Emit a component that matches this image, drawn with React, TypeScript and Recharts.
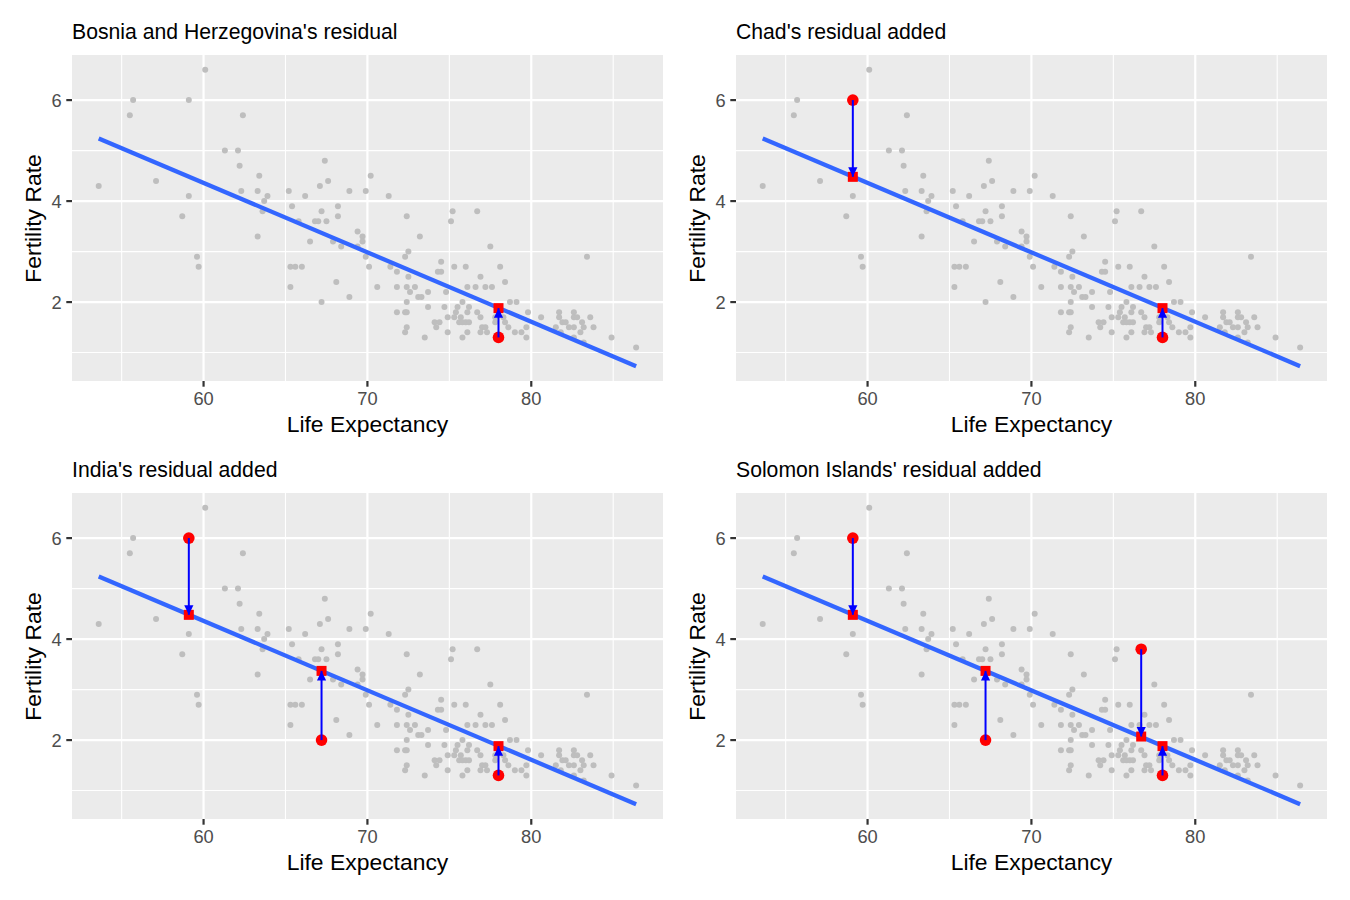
import React from 'react';
import { ScatterChart, Scatter, XAxis, YAxis, CartesianGrid } from 'recharts';

// life expectancy (years) vs fertility rate (births per woman), one pair per country
const COUNTRIES: Array<[number, number]> = [
  [60.1, 6.6], [55.7, 6.0], [59.1, 6.0], [55.5, 5.7], [62.4, 5.7], [61.3, 5.0], [62.1, 5.0],
  [62.2, 4.7], [63.4, 4.5], [53.6, 4.3], [57.1, 4.4], [62.3, 4.2], [63.3, 4.2], [63.9, 4.1],
  [63.7, 4.0], [63.6, 3.8], [59.1, 4.1], [58.7, 3.7], [63.3, 3.3], [59.6, 2.9], [59.7, 2.7],
  [67.4, 4.8], [70.2, 4.5], [67.6, 4.4], [67.1, 4.3], [65.2, 4.2], [66.2, 4.1], [68.9, 4.2],
  [69.9, 4.2], [71.3, 4.1], [65.4, 3.9], [67.2, 3.8], [68.2, 3.9], [68.2, 3.7], [65.8, 3.6],
  [66.8, 3.6], [67.0, 3.6], [67.5, 3.6], [72.4, 3.7], [66.5, 3.2], [67.9, 3.2], [68.4, 3.1],
  [69.4, 3.4], [69.7, 3.3], [69.7, 3.2], [69.4, 3.1], [69.9, 2.9], [70.1, 2.7], [73.2, 3.3],
  [72.5, 3.0], [72.3, 2.9], [71.4, 2.7], [71.8, 2.6], [72.5, 2.5], [65.3, 2.7], [65.6, 2.7],
  [66.0, 2.7], [65.3, 2.3], [68.1, 2.4], [68.9, 2.1], [67.2, 2.0], [70.6, 2.3], [71.8, 2.3],
  [72.4, 2.3], [72.9, 2.3], [72.6, 2.2], [73.1, 2.1], [73.3, 2.1], [73.7, 2.2], [72.4, 2.0],
  [73.7, 1.9], [71.8, 1.8], [72.3, 1.8], [72.4, 1.8], [72.4, 1.5], [72.3, 1.4], [73.5, 1.3],
  [75.2, 3.8], [75.1, 3.6], [76.7, 3.8], [77.5, 3.1], [74.5, 2.8], [74.3, 2.6], [74.5, 2.6],
  [75.3, 2.7], [76.0, 2.7], [78.1, 2.7], [76.9, 2.5], [78.4, 2.4], [76.1, 2.3], [76.6, 2.3],
  [77.2, 2.3], [77.6, 2.3], [74.8, 2.2], [75.8, 2.0], [78.7, 2.0], [79.1, 2.0], [74.7, 1.9],
  [75.5, 1.9], [76.2, 1.9], [75.4, 1.8], [76.1, 1.8], [76.7, 1.8], [79.8, 1.8], [74.9, 1.7],
  [75.3, 1.7], [75.7, 1.7], [76.9, 1.7], [77.8, 1.7], [78.3, 1.7], [74.1, 1.6], [74.4, 1.6],
  [75.6, 1.6], [75.8, 1.6], [76.0, 1.6], [76.2, 1.6], [77.8, 1.6], [78.4, 1.6], [74.2, 1.5],
  [77.0, 1.5], [77.2, 1.5], [78.6, 1.5], [79.7, 1.5], [74.9, 1.4], [76.1, 1.4], [76.9, 1.4],
  [77.3, 1.4], [79.0, 1.4], [79.4, 1.4], [75.8, 1.3], [79.7, 1.3], [78.0, 1.3],
  [80.6, 1.7], [83.4, 2.9], [81.7, 1.8], [82.6, 1.8], [81.7, 1.7], [82.6, 1.7], [82.8, 1.7],
  [83.6, 1.7], [81.9, 1.6], [82.1, 1.6], [83.1, 1.6], [81.5, 1.5], [82.3, 1.5], [82.6, 1.5],
  [83.2, 1.5], [83.8, 1.5], [81.8, 1.4], [83.0, 1.4], [82.6, 1.3], [83.2, 1.2], [84.9, 1.3],
  [86.4, 1.1],
];

// least-squares line, drawn across the observed life expectancy range
const FIT_LIFE_EXP = [53.6, 86.4];
const FIT_FERTILITY = [5.24, 0.73];

// countries whose residuals get highlighted, in the order they are added
const RESIDUAL_COUNTRIES = ['Bosnia and Herzegovina', 'Chad', 'India', 'Solomon Islands'];
const RESIDUAL_LIFE_EXP = [78.0, 59.1, 67.2, 76.7];
const RESIDUAL_FERTILITY = [1.3, 6.0, 2.0, 3.8];
const RESIDUAL_FITTED = [1.88, 4.48, 3.37, 2.07];

const PANEL_TITLES = [
  "Bosnia and Herzegovina's residual",
  "Chad's residual added",
  "India's residual added",
  "Solomon Islands' residual added",
];

const X_DOMAIN = [51.97, 88.04];
const Y_DOMAIN = [0.437, 6.893];
const X_TICKS = [60, 70, 80];
const X_MINOR = [55, 65, 75, 85];
const Y_TICKS = [2, 4, 6];
const Y_MINOR = [1, 3, 5];

const FONT = '"Liberation Sans", Arial, Helvetica, sans-serif';
const CHART_W = 672;
const CHART_H = 440;

const pointData = COUNTRIES.map(([x, y]) => ({ x, y }));
const fitData = FIT_LIFE_EXP.map((x, i) => ({ x, y: FIT_FERTILITY[i] }));

const grayDot = (p: any) => <circle cx={p.cx} cy={p.cy} r={3} fill="#BEBEBE" />;
const noDot = () => <g />;
const redDot = (p: any) => <circle cx={p.cx} cy={p.cy} r={5.8} fill="#FF0000" />;
const redSquare = (p: any) => <rect x={p.cx - 5} y={p.cy - 5} width={10} height={10} fill="#FF0000" />;

// arrow head sits on the fitted value, pointing away from the observed value
const arrowHead = (p: any) => {
  if (!p.payload || !p.payload.tip) return <g />;
  const d = p.payload.y > p.payload.from ? 9.5 : -9.5;
  return (
    <polygon
      points={`${p.cx},${p.cy} ${p.cx - 4.6},${p.cy + d} ${p.cx + 4.6},${p.cy + d}`}
      fill="#0000FF"
    />
  );
};

function Panel({ title, count, left, top }: { title: string; count: number; left: number; top: number }) {
  const observed = RESIDUAL_COUNTRIES.slice(0, count).map((name, i) => ({
    name,
    x: RESIDUAL_LIFE_EXP[i],
    y: RESIDUAL_FERTILITY[i],
  }));
  const fitted = RESIDUAL_COUNTRIES.slice(0, count).map((name, i) => ({
    name,
    x: RESIDUAL_LIFE_EXP[i],
    y: RESIDUAL_FITTED[i],
  }));

  return (
    <div style={{ position: 'absolute', left, top, width: CHART_W, height: CHART_H }}>
      <ScatterChart width={CHART_W} height={CHART_H} margin={{ top: 55, right: 9, bottom: 0, left: 0 }}>
        <CartesianGrid
          fill="#EBEBEB"
          stroke="#FFFFFF"
          strokeWidth={1.1}
          horizontalValues={Y_MINOR}
          verticalValues={X_MINOR}
        />
        <CartesianGrid stroke="#FFFFFF" strokeWidth={2.2} horizontalValues={Y_TICKS} verticalValues={X_TICKS} />
        <XAxis
          type="number"
          dataKey="x"
          domain={X_DOMAIN}
          allowDataOverflow
          ticks={X_TICKS}
          height={59}
          axisLine={false}
          tickSize={5.7}
          tickMargin={5.5}
          tickLine={{ stroke: '#333333', strokeWidth: 2.2 }}
          tick={{ fill: '#4D4D4D', fontSize: 18.3 }}
        />
        <YAxis
          type="number"
          dataKey="y"
          domain={Y_DOMAIN}
          allowDataOverflow
          ticks={Y_TICKS}
          width={72}
          axisLine={false}
          tickSize={5.7}
          tickMargin={4.6}
          tickLine={{ stroke: '#333333', strokeWidth: 2.2 }}
          tick={{ fill: '#4D4D4D', fontSize: 18.3 }}
        />
        <Scatter data={pointData} shape={grayDot} isAnimationActive={false} />
        <Scatter
          data={fitData}
          shape={noDot}
          line={{ stroke: '#3366FF', strokeWidth: 4.3 }}
          isAnimationActive={false}
        />
        <Scatter data={observed} shape={redDot} isAnimationActive={false} />
        <Scatter data={fitted} shape={redSquare} isAnimationActive={false} />
        {observed.map((o, i) => (
          <Scatter
            key={o.name}
            data={[
              { x: o.x, y: o.y },
              { x: o.x, y: fitted[i].y, from: o.y, tip: true },
            ]}
            shape={arrowHead}
            line={{ stroke: '#0000FF', strokeWidth: 2 }}
            isAnimationActive={false}
          />
        ))}
      </ScatterChart>

      <div
        style={{
          position: 'absolute',
          left: 72,
          top: 20.5,
          fontSize: 21.2,
          lineHeight: 1,
          whiteSpace: 'nowrap',
          color: '#000',
        }}
      >
        {title}
      </div>
      <div
        style={{
          position: 'absolute',
          left: 72,
          width: 591,
          top: 413,
          fontSize: 22.9,
          lineHeight: 1,
          textAlign: 'center',
          whiteSpace: 'nowrap',
          color: '#000',
        }}
      >
        Life Expectancy
      </div>
      <div
        style={{
          position: 'absolute',
          left: 32.6 - 150,
          top: 218 - 11.45,
          width: 300,
          fontSize: 22.9,
          lineHeight: 1,
          textAlign: 'center',
          whiteSpace: 'nowrap',
          transform: 'rotate(-90deg)',
          color: '#000',
        }}
      >
        Fertility Rate
      </div>
    </div>
  );
}

export default function App() {
  return (
    <div
      style={{
        position: 'absolute',
        left: 0,
        top: 0,
        width: 1350,
        height: 900,
        background: '#FFFFFF',
        fontFamily: FONT,
      }}
    >
      {PANEL_TITLES.map((title, i) => (
        <Panel
          key={title}
          title={title}
          count={i + 1}
          left={(i % 2) * 664}
          top={Math.floor(i / 2) * 438}
        />
      ))}
    </div>
  );
}
